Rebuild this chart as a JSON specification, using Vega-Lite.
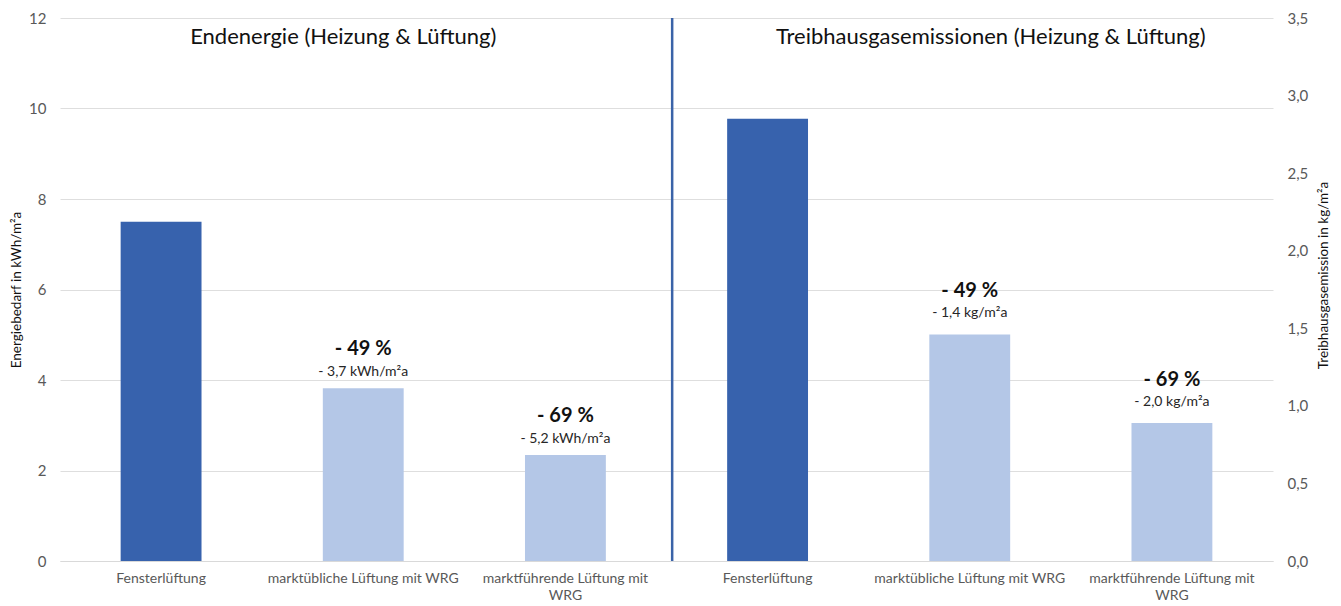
{
  "$schema": "https://vega.github.io/schema/vega-lite/v6.json",
  "width": 1213,
  "height": 543,
  "autosize": {"type": "none"},
  "padding": {"left": 60, "top": 18, "right": 68, "bottom": 45},
  "background": "white",
  "config": {
    "font": "Lato",
    "view": {"stroke": null},
    "axis": {"labelFont": "Lato", "titleFont": "Lato"}
  },
  "datasets": {
    "energy": [
      {"id": "E1", "value": 7.5, "kind": "base", "pct": "", "abs": ""},
      {"id": "E2", "value": 3.82, "kind": "wrg", "pct": "- 49 %", "abs": "- 3,7 kWh/m²a"},
      {"id": "E3", "value": 2.34, "kind": "wrg", "pct": "- 69 %", "abs": "- 5,2 kWh/m²a"}
    ],
    "emission": [
      {"id": "T1", "value": 2.85, "kind": "base", "pct": "", "abs": ""},
      {"id": "T2", "value": 1.46, "kind": "wrg", "pct": "- 49 %", "abs": "- 1,4 kg/m²a"},
      {"id": "T3", "value": 0.89, "kind": "wrg", "pct": "- 69 %", "abs": "- 2,0 kg/m²a"}
    ],
    "titles": [
      {"id": "E2", "value": 11.58, "title": "Endenergie (Heizung & Lüftung)", "side": "left"},
      {"id": "T2", "value": 11.58, "title": "Treibhausgasemissionen (Heizung & Lüftung)", "side": "right"}
    ],
    "divider": [
      {"id": "E3", "top": 12, "bottom": 0}
    ]
  },
  "encoding": {
    "x": {
      "field": "id",
      "type": "nominal",
      "scale": {"domain": ["E1", "E2", "E3", "T1", "T2", "T3"], "paddingInner": 0.6, "paddingOuter": 0.3},
      "axis": {
        "title": null,
        "labelAngle": 0,
        "labelFontSize": 14,
        "labelColor": "#595959",
        "labelPadding": 10,
        "labelLineHeight": 17,
        "labelBaseline": "top",
        "labelLimit": 0,
        "labelOverlap": false,
        "ticks": false,
        "domain": true,
        "domainColor": "#d9d9d9",
        "labelExpr": "indexof(datum.value,'1')>=0 ? 'Fensterlüftung' : (indexof(datum.value,'2')>=0 ? 'marktübliche Lüftung mit WRG' : ['marktführende Lüftung mit','WRG'])"
      }
    }
  },
  "layer": [
    {
      "layer": [
        {
          "data": {"name": "energy"},
          "mark": {"type": "bar"},
          "encoding": {
            "y": {
              "field": "value",
              "type": "quantitative",
              "scale": {"domain": [0, 12], "nice": false},
              "axis": {
                "orient": "left",
                "values": [0, 2, 4, 6, 8, 10, 12],
                "title": "Energiebedarf in kWh/m²a",
                "titleFontSize": 13.5,
                "titleFontWeight": "normal",
                "titleColor": "#111111",
                "titlePadding": 5,
                "labelFontSize": 15,
                "labelColor": "#595959",
                "labelPadding": 14,
                "ticks": false,
                "domain": false,
                "grid": true,
                "gridColor": "#dedede",
                "gridWidth": 1
              }
            },
            "color": {
              "field": "kind",
              "type": "nominal",
              "scale": {"domain": ["base", "wrg"], "range": ["#3762ad", "#b4c7e7"]},
              "legend": null
            }
          }
        },
        {
          "data": {"name": "energy"},
          "mark": {"type": "text", "baseline": "alphabetic", "dy": -12, "fontSize": 14, "color": "#262626"},
          "encoding": {
            "y": {"field": "value", "type": "quantitative"},
            "text": {"field": "abs"}
          }
        },
        {
          "data": {"name": "energy"},
          "mark": {"type": "text", "baseline": "alphabetic", "dy": -33, "fontSize": 20, "fontWeight": "bold", "color": "#111111"},
          "encoding": {
            "y": {"field": "value", "type": "quantitative"},
            "text": {"field": "pct"}
          }
        },
        {
          "data": {"name": "titles"},
          "transform": [{"filter": "datum.side === 'left'"}],
          "mark": {"type": "text", "baseline": "middle", "fontSize": 22, "color": "#111111", "dx": -20},
          "encoding": {
            "y": {"field": "value", "type": "quantitative"},
            "text": {"field": "title"}
          }
        },
        {
          "data": {"name": "titles"},
          "transform": [{"filter": "datum.side === 'right'"}],
          "mark": {"type": "text", "baseline": "middle", "fontSize": 22, "color": "#111111", "dx": 21},
          "encoding": {
            "y": {"field": "value", "type": "quantitative"},
            "text": {"field": "title"}
          }
        },
        {
          "data": {"name": "divider"},
          "mark": {"type": "rule", "color": "#3a63a8", "strokeWidth": 2.5},
          "encoding": {
            "x": {"field": "id", "type": "nominal", "bandPosition": 1.82},
            "y": {"field": "top", "type": "quantitative"},
            "y2": {"field": "bottom"}
          }
        }
      ]
    },
    {
      "layer": [
        {
          "data": {"name": "emission"},
          "mark": {"type": "bar"},
          "encoding": {
            "y": {
              "field": "value",
              "type": "quantitative",
              "scale": {"domain": [0, 3.5], "nice": false},
              "axis": {
                "orient": "right",
                "values": [0, 0.5, 1, 1.5, 2, 2.5, 3, 3.5],
                "labelExpr": "replace(format(datum.value, '.1f'), '.', ',')",
                "title": "Treibhausgasemission in kg/m²a",
                "titleAngle": 270,
                "titleY": 257,
                "titleFontSize": 13.5,
                "titleFontWeight": "normal",
                "titleColor": "#111111",
                "titlePadding": 23,
                "labelFontSize": 15,
                "labelColor": "#595959",
                "labelPadding": 14,
                "ticks": false,
                "domain": false,
                "grid": false
              }
            },
            "color": {
              "field": "kind",
              "type": "nominal",
              "scale": {"domain": ["base", "wrg"], "range": ["#3762ad", "#b4c7e7"]},
              "legend": null
            }
          }
        },
        {
          "data": {"name": "emission"},
          "mark": {"type": "text", "baseline": "alphabetic", "dy": -17, "fontSize": 14, "color": "#262626"},
          "encoding": {
            "y": {"field": "value", "type": "quantitative"},
            "text": {"field": "abs"}
          }
        },
        {
          "data": {"name": "emission"},
          "mark": {"type": "text", "baseline": "alphabetic", "dy": -37, "fontSize": 20, "fontWeight": "bold", "color": "#111111"},
          "encoding": {
            "y": {"field": "value", "type": "quantitative"},
            "text": {"field": "pct"}
          }
        }
      ]
    }
  ],
  "resolve": {"scale": {"y": "independent", "color": "shared"}, "axis": {"y": "independent"}}
}
